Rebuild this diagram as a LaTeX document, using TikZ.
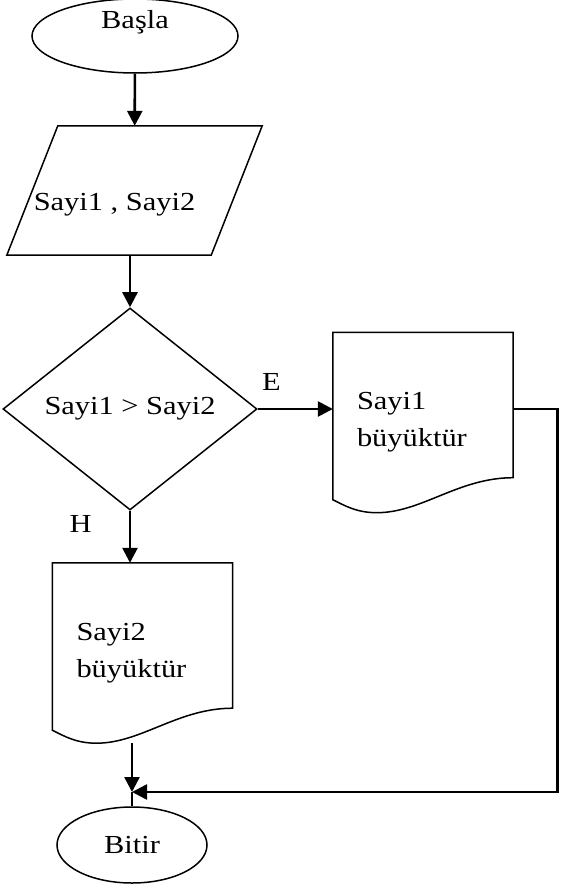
\documentclass[tikz,border=0pt]{standalone}
\usepackage{fontspec}
\setmainfont{Liberation Serif}[FakeStretch=1.17]
\usepackage{tikz}
\usetikzlibrary{shapes.geometric, arrows.meta, calc}

\tikzset{
    terminal/.style={draw, ellipse, line width=1.5pt, inner sep=0},
    io/.style={rectangle, minimum width=204pt, minimum height=129pt, inner sep=0},
    decision/.style={draw, diamond, aspect=1.26, line width=1.5pt, inner sep=0},
    docbox/.style={rectangle, minimum width=180pt, minimum height=180pt,
        text width=132pt, inner xsep=24pt, align=left},
    flow/.style={->, line width=2.6pt},
    answer/.style={pos=0, inner sep=0}
}

\begin{document}
\begin{tikzpicture}[x=1pt, y=-1pt, >={Triangle[length=15pt, width=15pt]},
    every node/.style={font=\fontsize{26}{37}\selectfont}]
    \useasboundingbox (0,0) rectangle (575,893);

    \node[terminal, minimum width=206pt, minimum height=74pt,
        label={[yshift=14pt]center:Başla}](start)               at (135,36)    {};
    \node[io, label={[xshift=-20pt, yshift=-14pt]center:Sayi1 , Sayi2}](input) at (134.5,190.5) {};
    \node[decision, minimum width=254pt, minimum height=202pt](cond) at (130,409) {Sayi1 > Sayi2};
    \node[docbox](s1)                                            at (423,422.5) {Sayi1\\büyüktür};
    \node[docbox, minimum width=179pt](s2)                        at (142.5,653) {Sayi2\\büyüktür};
    \coordinate (j)                                              at (132,792);
    \node[terminal, minimum width=150pt, minimum height=76pt](end) at (132,845) {Bitir};

    % slanted input box
    \draw[line width=1.5pt] ($(input.north west)+(25.5,0)$) -- ($(input.north east)+(25.5,0)$)
        -- ($(input.south east)+(-25.5,0)$) -- ($(input.south west)+(-25.5,0)$) -- cycle;

    % document outlines with the wavy bottom
    \foreach \d in {s1,s2}
        \draw[line width=1.5pt] (\d.north west) -- (\d.north east) -- ($(\d.south east)+(0,-35)$)
            .. controls +(-55,0) and +(45,0) .. ($(\d.south west)+(44,0)$)
            .. controls +(-20,0) and +(12,6) .. ($(\d.south west)+(0,-13)$) -- cycle;

    \path
        (start)
            edge [flow] (input)
        (cond.north |- input.south)
            edge [flow] (cond)
        (cond.east)
            edge [flow] node [answer, anchor=base west, xshift=3pt, yshift=19pt] {E} (cond.east -| s1.west)
        (cond.south)
            edge [flow] node [answer, anchor=base east, xshift=-37pt, yshift=-22pt] {H} (cond.south |- s2.north)
        (j |- s2.south)
            edge [flow] (j)
        (j)
            edge [line width=1.5pt] (end)
        ;
    \draw[flow] (cond.east -| s1.east) -- ++(44,0) |- (j);
\end{tikzpicture}
\end{document}
